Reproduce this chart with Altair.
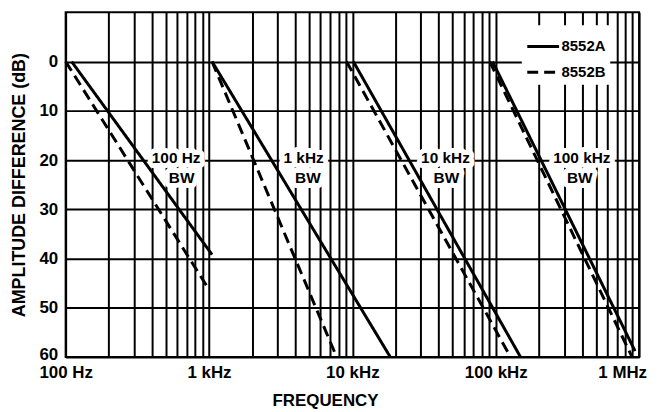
import altair as alt
import pandas as pd

FONT = "Liberation Sans"

# Bandwidth groups
bw_groups = ["100 Hz", "1 kHz", "10 kHz", "100 kHz"]

# 8552A (solid) curves: start / end frequency (Hz) and amplitude difference (dB)
a_freq = [[110, 1050], [1050, 18400], [10160, 149000], [95000, 938000]]
a_db = [[0, 39.2], [0, 60], [0, 60], [0, 58.8]]

# 8552B (dashed) curves
b_freq = [[100, 1000], [1050, 7620], [9100, 127000], [90800, 894000]]
b_db = [[0, 46.3], [0, 59.4], [0, 60], [0, 60]]

# In-plot labels
label_text = ["100 Hz", "1 kHz", "10 kHz", "100 kHz"]
label_freq = [590, 4570, 44600, 399000]
label_db = 19.5
bw_text = "BW"
bw_freq = [645, 4900, 45300, 386000]
bw_db = 23.6

# Axis values
decades = [100, 1000, 10000, 100000]
grid_freqs = [d * m for d in decades for m in range(1, 10)] + [1000000]
y_ticks = [0, 10, 20, 30, 40, 50, 60]

rows = []
for model, fr, dbs in (("8552A", a_freq, a_db), ("8552B", b_freq, b_db)):
    for g, fl, dl in zip(bw_groups, fr, dbs):
        for i, (f, d) in enumerate(zip(fl, dl)):
            rows.append({"model": model, "bw": g, "idx": i, "freq": f, "db": d})
curves = pd.DataFrame(rows)

labels = pd.DataFrame(
    [{"freq": f, "db": label_db, "text": t} for f, t in zip(label_freq, label_text)]
    + [{"freq": f, "db": bw_db, "text": bw_text} for f in bw_freq]
)

label_expr = ("datum.value == 100 ? '100 Hz' : datum.value == 1000 ? '1 kHz' : "
              "datum.value == 10000 ? '10 kHz' : datum.value == 100000 ? '100 kHz' : "
              "datum.value == 1000000 ? '1 MHz' : ''")

x_enc = alt.X(
    "freq:Q",
    title="FREQUENCY",
    scale=alt.Scale(type="log", domain=[100, 1000000], nice=False),
    axis=alt.Axis(
        values=grid_freqs, labelExpr=label_expr, labelOverlap=False, labelBound=False,
        labelFlush=False,
        labelOffset={"condition": {"test": "datum.value >= 1000000", "value": -17}, "value": 0},
        grid=True, gridColor="black", gridWidth=2, gridOpacity=1,
        ticks=False, domain=False, labelPadding=8,
        labelFont=FONT, labelFontSize=17, labelFontWeight="bold", labelColor="black",
        titleFont=FONT, titleFontSize=17, titleFontWeight="bold", titleColor="black",
        titlePadding=12, titleX=261,
    ),
)
y_enc = alt.Y(
    "db:Q",
    title="AMPLITUDE DIFFERENCE (dB)",
    scale=alt.Scale(domain=[-10, 60], reverse=True, nice=False, zero=False),
    axis=alt.Axis(
        values=y_ticks, grid=True, gridColor="black", gridWidth=2, gridOpacity=1,
        ticks=False, domain=False, labelPadding=8,
        labelFlush=True, labelFlushOffset=6,
        labelFont=FONT, labelFontSize=17, labelFontWeight="bold", labelColor="black",
        titleFont=FONT, titleFontSize=18, titleFontWeight="bold", titleColor="black",
        titlePadding=10,
    ),
)

halo = alt.Chart(labels).mark_text(
    font=FONT, fontSize=15.5, fontWeight="bold", fill="white", stroke="white",
    strokeWidth=10, strokeJoin="round", baseline="middle", align="center",
).encode(x=x_enc, y=y_enc, text="text:N")

lines = alt.Chart(curves).mark_line(strokeWidth=3, color="black", strokeCap="butt").encode(
    x=x_enc,
    y=y_enc,
    detail="bw:N",
    order="idx:Q",
    strokeDash=alt.StrokeDash(
        "model:N",
        scale=alt.Scale(domain=["8552A", "8552B"], range=[[1, 0], [11, 6]]),
        legend=alt.Legend(
            title=None, orient="none", legendX=459, legendY=13,
            fillColor="white", padding=4, symbolType="stroke", symbolSize=1024,
            symbolStrokeWidth=3, symbolStrokeColor="black",
            labelFont=FONT, labelFontSize=15, labelFontWeight="bold", labelColor="black",
            labelOffset=1, rowPadding=-3,
        ),
    ),
)

text = alt.Chart(labels).mark_text(
    font=FONT, fontSize=15.5, fontWeight="bold", color="black",
    baseline="middle", align="center",
).encode(x=x_enc, y=y_enc, text="text:N")

chart = alt.layer(halo, lines, text).properties(
    width=577, height=347,
    padding={"left": 3, "top": 3, "right": 5, "bottom": 5},
    background="white",
).configure_view(stroke="black", strokeWidth=2)

chart.save("out.html", embed_options={"renderer": "svg", "actions": False})
